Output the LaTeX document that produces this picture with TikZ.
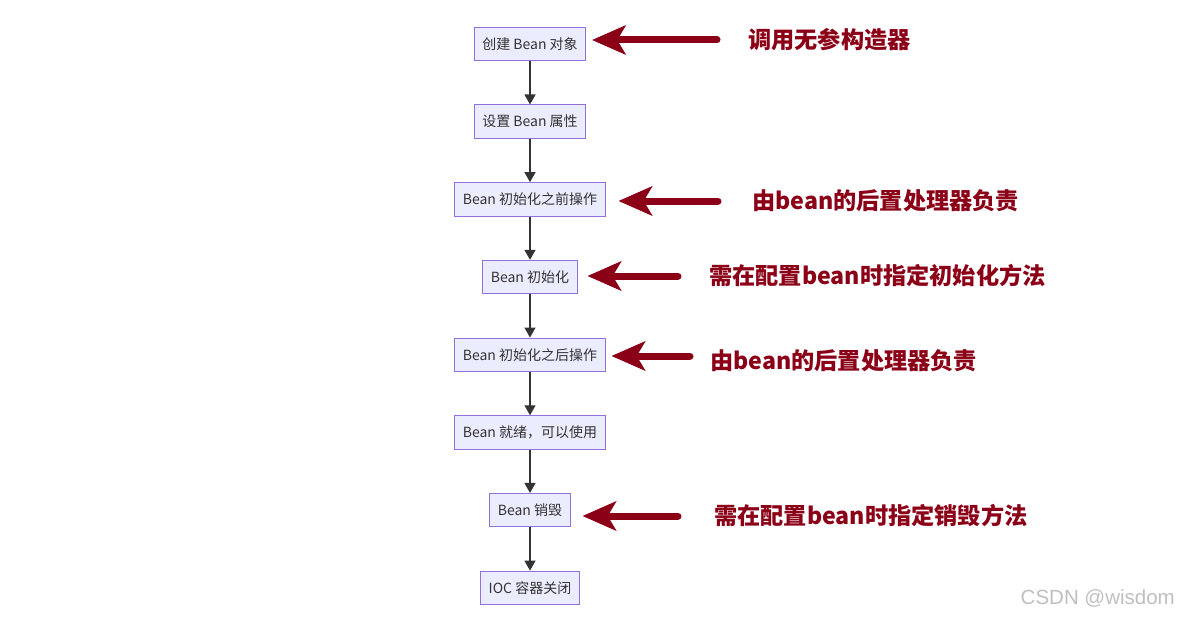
\documentclass[tikz,border=0pt]{standalone}
\usepackage{fontspec}
\newfontfamily\cjk{Noto Sans CJK SC}
\newfontfamily\wmfont{Liberation Sans}
\usetikzlibrary{arrows.meta,positioning}
\definecolor{boxfill}{HTML}{ECECFF}
\definecolor{boxline}{HTML}{9370DB}
\definecolor{flowgray}{HTML}{333333}
\definecolor{notered}{HTML}{8B0016}

\begin{document}
\begin{tikzpicture}[
  x=1pt, y=-1pt,
  font=\cjk\fontsize{14}{16}\selectfont,
  node distance=43.2pt,
  stage/.style={draw=boxline, fill=boxfill, line width=1pt, text=flowgray, minimum height=33.5pt, inner xsep=8pt, inner ysep=0pt},
  flow/.style={draw=flowgray, line width=1.3pt, -{Triangle[length=10pt,width=11pt]}},
  note/.style={text=notered, font=\cjk\bfseries\fontsize{23.2}{27}\selectfont, inner sep=0pt},
  hint/.style={draw=notered, line width=7pt, line cap=round, -{Stealth[length=34pt,width=30pt,inset=9pt,line width=1pt]}}
]
\useasboundingbox (0,0) rectangle (1179,618);
% Bean lifecycle
\node[stage] (create) at (530,44) {创建 Bean 对象};
\node[stage, below=of create] (props) {设置 Bean 属性};
\node[stage, below=of props] (preinit) {Bean 初始化之前操作};
\node[stage, below=of preinit] (init) {Bean 初始化};
\node[stage, below=of init] (postinit) {Bean 初始化之后操作};
\node[stage, below=of postinit] (ready) {Bean 就绪，可以使用};
\node[stage, below=of ready] (destroy) {Bean 销毁};
\node[stage, below=of destroy] (close) {IOC 容器关闭};
\draw[flow] (create) -- (props);
\draw[flow] (props) -- (preinit);
\draw[flow] (preinit) -- (init);
\draw[flow] (init) -- (postinit);
\draw[flow] (postinit) -- (ready);
\draw[flow] (ready) -- (destroy);
\draw[flow] (destroy) -- (close);
% Notes
\coordinate (t1) at (717,40);
\coordinate (t2) at (718,201);
\coordinate (t3) at (678,276);
\coordinate (t4) at (690,356);
\coordinate (t5) at (678,516);
\draw[hint, shorten >=6pt] (t1) -- (t1 -| create.east);
\draw[hint, shorten >=13pt] (t2) -- (t2 -| preinit.east);
\draw[hint, shorten >=10pt] (t3) -- (t3 -| init.east);
\draw[hint, shorten >=6pt] (t4) -- (t4 -| postinit.east);
\draw[hint, shorten >=12pt] (t5) -- (t5 -| destroy.east);
\node[note, right=31pt of t1] (n1) {调用无参构造器};
\node[note, right=34pt of t2] (n2) {由bean的后置处理器负责};
\node[note, right=31pt of t3] (n3) {需在配置bean时指定初始化方法};
\node[note, right=20pt of t4, yshift=-5pt] (n4) {由bean的后置处理器负责};
\node[note, right=36pt of t5] (n5) {需在配置bean时指定销毁方法};
% Watermark
\node[font=\wmfont\fontsize{20.5}{24}\selectfont, text=black!25, anchor=east, inner sep=0pt] (mark) at (1175,598) {CSDN @wisdom};
\end{tikzpicture}
\end{document}
